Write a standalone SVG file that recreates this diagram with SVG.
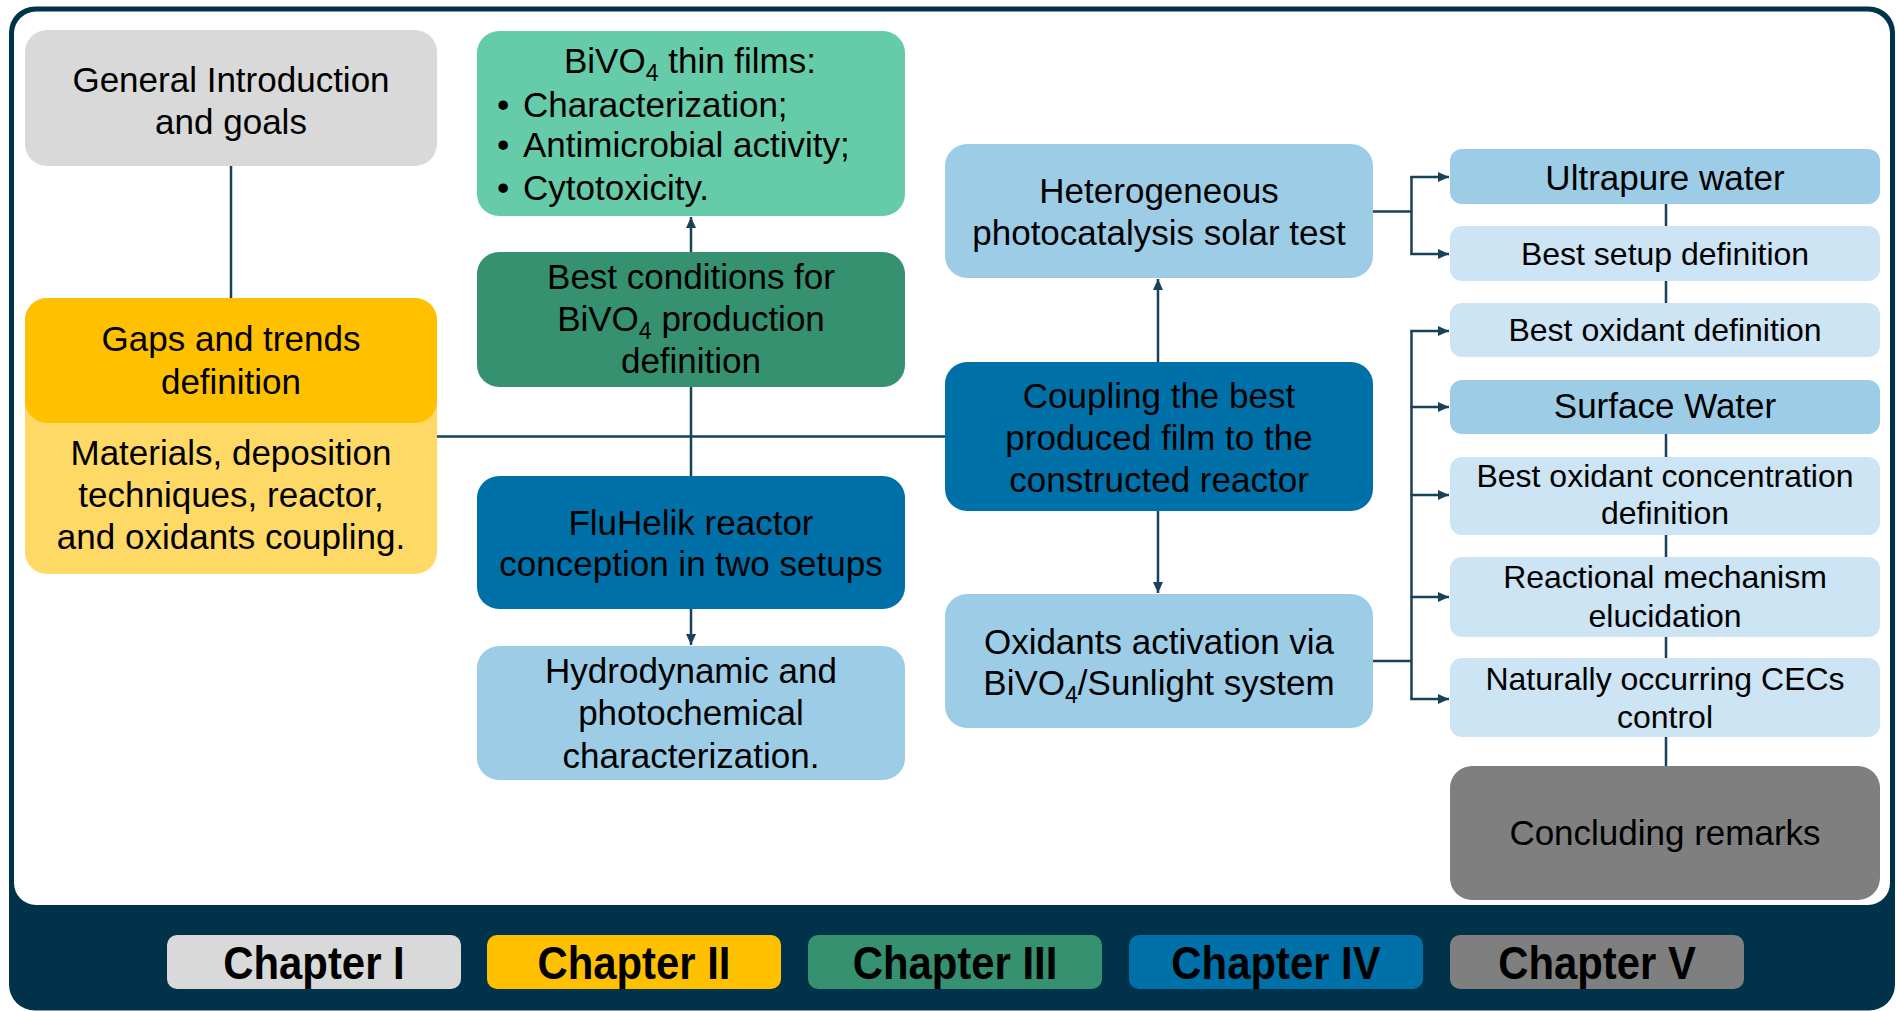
<svg xmlns="http://www.w3.org/2000/svg" width="1896" height="1011" viewBox="0 0 1896 1011">
<defs>
<style>
.t{font-family:"Liberation Sans",Arial,sans-serif;font-size:35px;fill:#000;text-anchor:middle}
.s{font-size:32px}
.l{text-anchor:start}
.ch{font-family:"Liberation Sans",Arial,sans-serif;font-size:46px;font-weight:bold;fill:#000;text-anchor:middle}
.c{fill:none;stroke:#17425a;stroke-width:2.5}
.a{marker-end:url(#ah)}
</style>
<marker id="ah" markerUnits="userSpaceOnUse" markerWidth="11" markerHeight="10" refX="11" refY="5" orient="auto">
<path d="M0,0 L11,5 L0,10 z" fill="#17425a"/>
</marker>
</defs>
<g id="frame">
<rect x="9" y="6.5" width="1886" height="1004" rx="26" fill="#003349"/>
<rect x="14" y="11.5" width="1876" height="893.5" rx="22" fill="#ffffff"/>
</g>
<g id="connectors">
<path class="c" d="M231,166 V298"/>
<path class="c" d="M437,436.5 H945"/>
<path class="c" d="M691,387 V476"/>
<path class="c a" d="M691,252 V217"/>
<path class="c a" d="M691,609 V645"/>
<path class="c a" d="M1158,362 V279"/>
<path class="c a" d="M1158,511 V593"/>
<path class="c" d="M1373,211.5 H1411.5 M1411.5,176 V255"/>
<path class="c a" d="M1410.5,177 H1449"/>
<path class="c a" d="M1410.5,254 H1449"/>
<path class="c" d="M1373,661 H1411.5 M1411.5,330 V700"/>
<path class="c a" d="M1410.5,331 H1449"/>
<path class="c a" d="M1410.5,407 H1449"/>
<path class="c a" d="M1410.5,495 H1449"/>
<path class="c a" d="M1410.5,597 H1449"/>
<path class="c a" d="M1410.5,699 H1449"/>
<path class="c" d="M1666,204 V226 M1666,281 V303 M1666,434 V457 M1666,535 V557 M1666,637 V658 M1666,737 V766"/>
</g>
<g id="n-intro">
<rect x="25" y="30" width="412" height="136" rx="22" fill="#d9d9d9"/>
<text class="t" x="231" y="92">General Introduction</text>
<text class="t" x="231" y="134">and goals</text>
</g>
<g id="n-gaps">
<rect x="25" y="298" width="412" height="276" rx="22" fill="#ffd966"/>
<rect x="25" y="298" width="412" height="125" rx="22" fill="#ffc000"/>
<text class="t" x="231" y="351">Gaps and trends</text>
<text class="t" x="231" y="394">definition</text>
<text class="t" x="231" y="465">Materials, deposition</text>
<text class="t" x="231" y="507">techniques, reactor,</text>
<text class="t" x="231" y="549">and oxidants coupling.</text>
</g>
<g id="n-films">
<rect x="477" y="31" width="428" height="185" rx="22" fill="#66cba8"/>
<text class="t" x="690" y="73">BiVO<tspan font-size="23" dy="8">4</tspan><tspan dy="-8"> thin films:</tspan></text>
<text class="t l" x="497" y="117">•</text><text class="t l" x="523" y="117">Characterization;</text>
<text class="t l" x="497" y="157">•</text><text class="t l" x="523" y="157">Antimicrobial activity;</text>
<text class="t l" x="497" y="200">•</text><text class="t l" x="523" y="200">Cytotoxicity.</text>
</g>
<g id="n-best">
<rect x="477" y="252" width="428" height="135" rx="22" fill="#35916f"/>
<text class="t" x="691" y="289">Best conditions for</text>
<text class="t" x="691" y="331">BiVO<tspan font-size="23" dy="8">4</tspan><tspan dy="-8"> production</tspan></text>
<text class="t" x="691" y="373">definition</text>
</g>
<g id="n-fluhelik">
<rect x="477" y="476" width="428" height="133" rx="22" fill="#0071a8"/>
<text class="t" x="691" y="535">FluHelik reactor</text>
<text class="t" x="691" y="576">conception in two setups</text>
</g>
<g id="n-hydro">
<rect x="477" y="646" width="428" height="134" rx="22" fill="#9dcde6"/>
<text class="t" x="691" y="683">Hydrodynamic and</text>
<text class="t" x="691" y="725">photochemical</text>
<text class="t" x="691" y="768">characterization.</text>
</g>
<g id="n-hetero">
<rect x="945" y="144" width="428" height="134" rx="22" fill="#9dcde6"/>
<text class="t" x="1159" y="203">Heterogeneous</text>
<text class="t" x="1159" y="245">photocatalysis solar test</text>
</g>
<g id="n-coupling">
<rect x="945" y="362" width="428" height="149" rx="22" fill="#0071a8"/>
<text class="t" x="1159" y="408">Coupling the best</text>
<text class="t" x="1159" y="450">produced film to the</text>
<text class="t" x="1159" y="492">constructed reactor</text>
</g>
<g id="n-oxidants">
<rect x="945" y="594" width="428" height="134" rx="22" fill="#9dcde6"/>
<text class="t" x="1159" y="654">Oxidants activation via</text>
<text class="t" x="1159" y="695">BiVO<tspan font-size="23" dy="8">4</tspan><tspan dy="-8">/Sunlight system</tspan></text>
</g>
<g id="n-ultrapure">
<rect x="1450" y="149" width="430" height="55" rx="12" fill="#9dcde6"/>
<text class="t" x="1665" y="190">Ultrapure water</text>
</g>
<g id="n-setup">
<rect x="1450" y="226" width="430" height="55" rx="12" fill="#cce4f3"/>
<text class="t s" x="1665" y="265">Best setup definition</text>
</g>
<g id="n-oxidant">
<rect x="1450" y="303" width="430" height="54" rx="12" fill="#cce4f3"/>
<text class="t s" x="1665" y="341">Best oxidant definition</text>
</g>
<g id="n-surface">
<rect x="1450" y="380" width="430" height="54" rx="12" fill="#9dcde6"/>
<text class="t" x="1665" y="418">Surface Water</text>
</g>
<g id="n-conc">
<rect x="1450" y="457" width="430" height="78" rx="12" fill="#cce4f3"/>
<text class="t s" x="1665" y="487">Best oxidant concentration</text>
<text class="t s" x="1665" y="524">definition</text>
</g>
<g id="n-mech">
<rect x="1450" y="557" width="430" height="80" rx="12" fill="#cce4f3"/>
<text class="t s" x="1665" y="588">Reactional mechanism</text>
<text class="t s" x="1665" y="627">elucidation</text>
</g>
<g id="n-cecs">
<rect x="1450" y="658" width="430" height="79" rx="12" fill="#cce4f3"/>
<text class="t s" x="1665" y="690">Naturally occurring CECs</text>
<text class="t s" x="1665" y="728">control</text>
</g>
<g id="n-concluding">
<rect x="1450" y="766" width="430" height="134" rx="22" fill="#7f7f7f"/>
<text class="t" x="1665" y="845">Concluding remarks</text>
</g>
<g id="legend">
<g id="ch1"><rect x="167" y="935" width="294" height="54" rx="10" fill="#d9d9d9"/><text class="ch" transform="translate(314,979) scale(0.91,1)">Chapter I</text></g>
<g id="ch2"><rect x="487" y="935" width="294" height="54" rx="10" fill="#ffc000"/><text class="ch" transform="translate(634,979) scale(0.91,1)">Chapter II</text></g>
<g id="ch3"><rect x="808" y="935" width="294" height="54" rx="10" fill="#35916f"/><text class="ch" transform="translate(955,979) scale(0.91,1)">Chapter III</text></g>
<g id="ch4"><rect x="1129" y="935" width="294" height="54" rx="10" fill="#0071a8"/><text class="ch" transform="translate(1276,979) scale(0.91,1)">Chapter IV</text></g>
<g id="ch5"><rect x="1450" y="935" width="294" height="54" rx="10" fill="#7f7f7f"/><text class="ch" transform="translate(1597,979) scale(0.91,1)">Chapter V</text></g>
</g>
</svg>
